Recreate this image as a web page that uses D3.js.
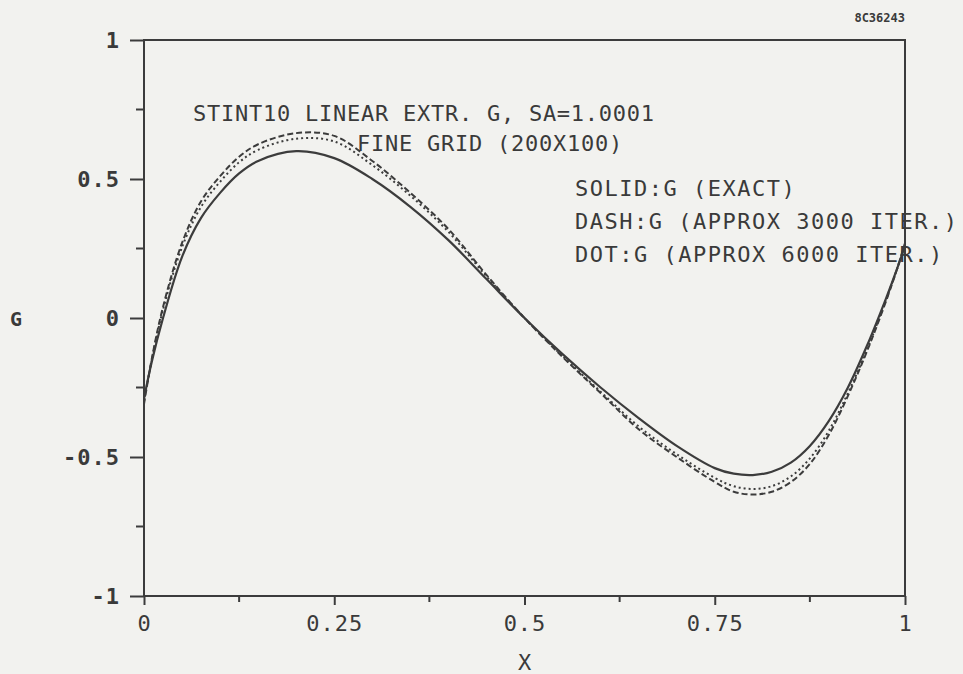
<!DOCTYPE html>
<html>
<head>
<meta charset="utf-8">
<script src="https://cdn.jsdelivr.net/npm/d3@7/dist/d3.min.js"></script>
<style>
  html, body { margin: 0; padding: 0; background: #f2f2ef; }
  svg text { font-family: "DejaVu Sans Mono", "Liberation Mono", monospace; fill: #3a3a3a; }
</style>
</head>
<body>
<svg id="chart" width="963" height="674"></svg>
<script>
// ---- data ----
const xValues = [0, 0.01, 0.025, 0.05, 0.075, 0.1, 0.125, 0.15, 0.2, 0.25, 0.3, 0.35, 0.4, 0.45, 0.5,
                 0.55, 0.6, 0.65, 0.7, 0.75, 0.775, 0.8, 0.825, 0.85, 0.875, 0.9, 0.925, 0.95, 0.975, 0.99, 1.0];
const gExact = [-0.29, -0.16, 0.0, 0.22, 0.36, 0.45, 0.52, 0.565, 0.60, 0.575, 0.50, 0.40, 0.28, 0.14, 0.0,
                -0.13, -0.25, -0.36, -0.46, -0.54, -0.56, -0.565, -0.553, -0.52, -0.46, -0.37, -0.25, -0.10, 0.07, 0.18, 0.26];
const gApprox3000 = [-0.31, -0.15, 0.04, 0.27, 0.42, 0.51, 0.58, 0.625, 0.665, 0.655, 0.565, 0.45, 0.32, 0.155, 0.0,
                     -0.14, -0.27, -0.40, -0.50, -0.59, -0.625, -0.635, -0.625, -0.59, -0.525, -0.42, -0.28, -0.12, 0.06, 0.18, 0.27];
const gApprox6000 = [-0.30, -0.155, 0.03, 0.255, 0.40, 0.49, 0.56, 0.605, 0.645, 0.635, 0.55, 0.44, 0.31, 0.15, 0.0,
                     -0.137, -0.265, -0.39, -0.49, -0.575, -0.605, -0.615, -0.605, -0.57, -0.505, -0.405, -0.27, -0.115, 0.065, 0.18, 0.265];
const xTicks = [0, 0.25, 0.5, 0.75, 1];
const xTickLabels = ["0", "0.25", "0.5", "0.75", "1"];
const xMinorTicks = [0.125, 0.375, 0.625, 0.875];
const yTicks = [-1, -0.5, 0, 0.5, 1];
const yTickLabels = ["-1", "-0.5", "0", "0.5", "1"];
const yMinorTicks = [-0.75, -0.25, 0.25, 0.75];
const titleLines = ["STINT10 LINEAR EXTR. G, SA=1.0001", "FINE GRID (200X100)"];
const legendLines = ["SOLID:G (EXACT)", "DASH:G (APPROX 3000 ITER.)", "DOT:G (APPROX 6000 ITER.)"];
const xLabel = "X";
const yLabel = "G";
const stamp = "8C36243";

// ---- layout ----
const svg = d3.select("#chart");
const pLeft = 144, pRight = 905, pTop = 40, pBottom = 596;
const x = d3.scaleLinear().domain([0, 1]).range([pLeft, pRight]);
const y = d3.scaleLinear().domain([-1, 1]).range([pBottom, pTop]);
const ink = "#3c3c3c";
const fontSize = 22;

// frame
svg.append("rect").attr("x", pLeft).attr("y", pTop).attr("width", pRight - pLeft).attr("height", pBottom - pTop)
  .attr("fill", "none").attr("stroke", ink).attr("stroke-width", 2);

// y axis
const yAxis = d3.axisLeft(y).tickValues(yTicks).tickSize(14).tickPadding(10)
  .tickFormat((d, i) => yTickLabels[i]);
const gy = svg.append("g").attr("transform", `translate(${pLeft},0)`).call(yAxis);
gy.select(".domain").remove();
gy.selectAll(".tick line").attr("stroke", ink).attr("stroke-width", 2);
gy.selectAll(".tick text").attr("font-size", fontSize).attr("letter-spacing", "1px")
  .attr("font-family", "DejaVu Sans Mono").attr("fill", "#3a3a3a").attr("font-weight", "bold");
svg.append("g").selectAll("line").data(yMinorTicks).join("line")
  .attr("x1", pLeft - 8).attr("x2", pLeft).attr("y1", d => y(d)).attr("y2", d => y(d))
  .attr("stroke", ink).attr("stroke-width", 2);

// x axis
const xAxis = d3.axisBottom(x).tickValues(xTicks).tickSize(9).tickPadding(10)
  .tickFormat((d, i) => xTickLabels[i]);
const gx = svg.append("g").attr("transform", `translate(0,${pBottom})`).call(xAxis);
gx.select(".domain").remove();
gx.selectAll(".tick line").attr("stroke", ink).attr("stroke-width", 2);
gx.selectAll(".tick text").attr("font-size", fontSize).attr("letter-spacing", "1px")
  .attr("font-family", "DejaVu Sans Mono").attr("fill", "#3a3a3a");
svg.append("g").selectAll("line").data(xMinorTicks).join("line")
  .attr("x1", d => x(d)).attr("x2", d => x(d)).attr("y1", pBottom).attr("y2", pBottom + 6)
  .attr("stroke", ink).attr("stroke-width", 2);

// axis labels
svg.append("text").attr("x", x(0.5)).attr("y", 670).attr("text-anchor", "middle")
  .attr("font-size", fontSize).text(xLabel);
svg.append("text").attr("x", 16).attr("y", y(0) + 8).attr("text-anchor", "middle")
  .attr("font-size", fontSize - 2).attr("font-weight", "bold").text(yLabel);

// stamp
svg.append("text").attr("x", 905).attr("y", 22).attr("text-anchor", "end")
  .attr("font-size", 12).attr("font-weight", "bold").text(stamp);

// curves
const line = d3.line().x(d => x(d[0])).y(d => y(d[1])).curve(d3.curveCatmullRom.alpha(0.5));
const series = [
  { vals: gExact, dash: null, w: 2.2 },
  { vals: gApprox3000, dash: "6,3", w: 2 },
  { vals: gApprox6000, dash: "2,3", w: 2 }
];
series.forEach(s => {
  svg.append("path").datum(xValues.map((xv, i) => [xv, s.vals[i]]))
    .attr("d", line).attr("fill", "none").attr("stroke", ink)
    .attr("stroke-width", s.w).attr("stroke-dasharray", s.dash);
});

// title
svg.append("text").attr("x", 193).attr("y", 121).attr("font-size", fontSize).attr("letter-spacing", "0.75px")
  .text(titleLines[0]);
svg.append("text").attr("x", 357).attr("y", 151).attr("font-size", fontSize).attr("letter-spacing", "0.75px")
  .text(titleLines[1]);

// legend
legendLines.forEach((t, i) => {
  svg.append("text").attr("x", 575).attr("y", 196 + i * 33).attr("font-size", fontSize)
    .attr("letter-spacing", "1.5px").text(t);
});
</script>
</body>
</html>
